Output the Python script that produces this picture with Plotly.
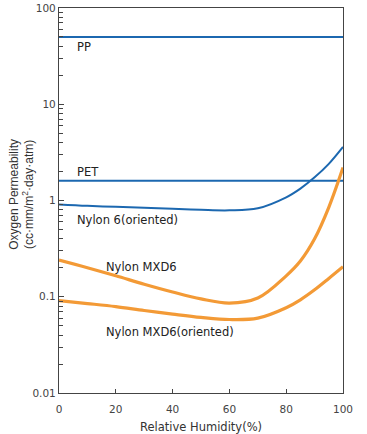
import math
import plotly.graph_objects as go

humidity = [0, 10, 20, 30, 40, 50, 60, 70, 80, 85, 90, 95, 100]
pp = [50] * 13
pet = [1.6] * 13
nylon6_oriented = [0.91, 0.88, 0.86, 0.84, 0.82, 0.80, 0.79, 0.83, 1.08, 1.33, 1.74, 2.4, 3.6]
nylon_mxd6 = [0.24, 0.20, 0.165, 0.135, 0.112, 0.095, 0.086, 0.097, 0.165, 0.235, 0.40, 0.85, 2.2]
nylon_mxd6_oriented = [0.091, 0.085, 0.079, 0.072, 0.066, 0.061, 0.058, 0.060, 0.077, 0.093, 0.118, 0.155, 0.205]

x_ticks = [0, 20, 40, 60, 80, 100]
y_ticks = [0.01, 0.1, 1, 10, 100]
y_ticktext = ["0.01", "0.1", "1", "10", "100"]

label_texts = ["PP", "PET", "Nylon 6(oriented)", "Nylon MXD6", "Nylon MXD6(oriented)"]
label_x = [5.5, 5.5, 5.5, 16, 16]
label_y = [39, 2.0, 0.63, 0.205, 0.0435]

x_title = "Relative Humidity(%)"
y_title = "Oxygen Permeability<br>(cc·mm/m<sup>2</sup>·day·atm)"

blue = "#1c68b0"
orange = "#f39a36"
FONT = "DejaVu Sans, Liberation Sans, Arial"

fig = go.Figure()
for ys, col, w in [(pp, blue, 2), (pet, blue, 2), (nylon6_oriented, blue, 2),
                   (nylon_mxd6, orange, 3.2), (nylon_mxd6_oriented, orange, 3.2)]:
    fig.add_trace(go.Scatter(x=humidity, y=ys, mode="lines",
                             line=dict(color=col, width=w, shape="spline", smoothing=1.0),
                             showlegend=False, hoverinfo="skip"))

for t, x, y in zip(label_texts, label_x, label_y):
    fig.add_annotation(x=x, y=math.log10(y), xref="x", yref="y", text=t, showarrow=False,
                       xanchor="left", yanchor="middle",
                       font=dict(size=11.5, color="#222", family=FONT))

# axis titles as annotations for precise placement
fig.add_annotation(x=-0.131, y=0.517, xref="paper", yref="paper", text=y_title,
                   showarrow=False, textangle=-90, xanchor="center", yanchor="middle",
                   font=dict(size=12, color="#333", family="Liberation Sans, Arial"))
fig.add_annotation(x=0.5, y=-0.088, xref="paper", yref="paper", text=x_title,
                   showarrow=False, xanchor="center", yanchor="middle",
                   font=dict(size=11.5, color="#333", family=FONT))

minor_vals = [m * 10 ** e for e in range(-2, 2) for m in range(2, 10)]

fig.update_layout(
    width=367, height=434,
    margin=dict(l=59, r=24, t=8, b=41, autoexpand=False),
    plot_bgcolor="white", paper_bgcolor="white",
    font=dict(family=FONT, size=10.5, color="#444"),
    xaxis=dict(range=[0, 100], tickvals=x_ticks, ticks="inside", ticklen=4,
               tickcolor="#444", showline=True, linecolor="#444", linewidth=1.2, mirror=True,
               showgrid=False, zeroline=False, automargin=False, ticklabelstandoff=6),
    yaxis=dict(type="log", range=[-2, 2], tickvals=y_ticks,
               ticktext=y_ticktext, ticks="inside", ticklen=5,
               tickcolor="#444", showline=True, linecolor="#444", linewidth=1.2, mirror=True,
               showgrid=False, zeroline=False, automargin=False,
               minor=dict(tickvals=minor_vals, ticks="inside", ticklen=4, tickcolor="#444", showgrid=False)),
)

fig.write_html("out.html", config={"displayModeBar": False},
               post_script="document.body.style.margin='0px';")
